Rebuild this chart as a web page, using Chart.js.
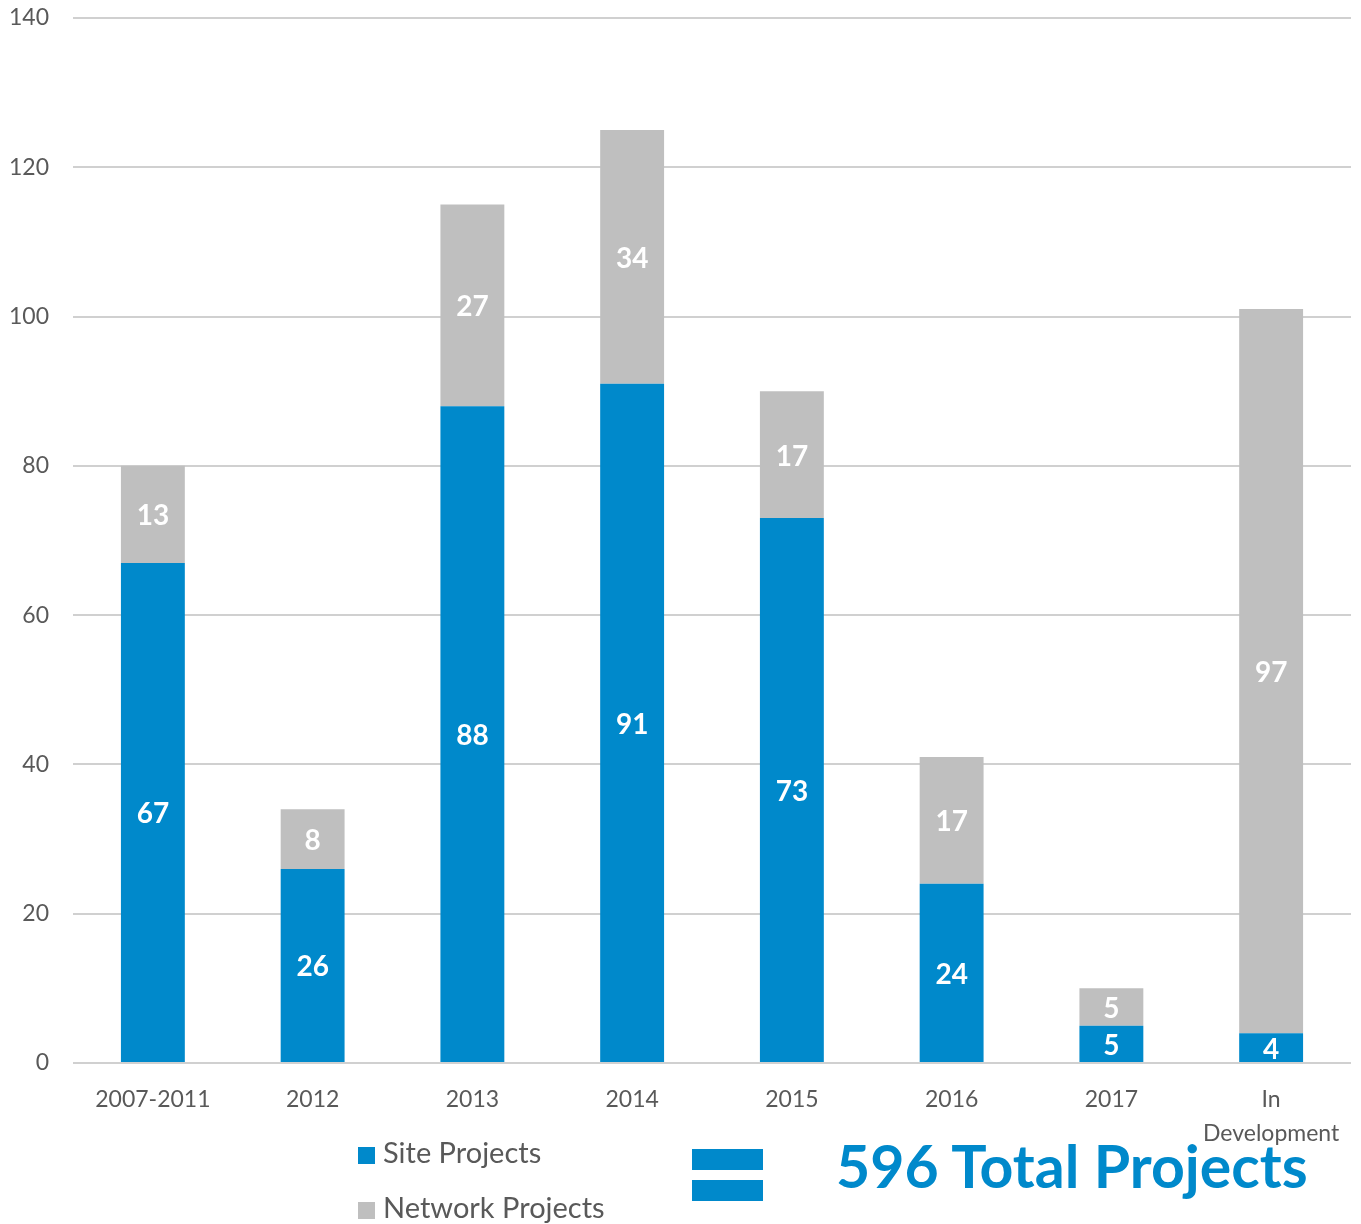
<!DOCTYPE html>
<html>
<head>
<meta charset="utf-8">
<script src="https://cdn.jsdelivr.net/npm/chart.js@4.4.0/dist/chart.umd.min.js"></script>
<style>
  body { margin: 0; background: #fff; }
  #wrap { position: relative; width: 1361px; height: 1224px; }
  #projects { position: absolute; left: 0; top: 0; }
  .legend { position: absolute; left: 358px; font-family: Lato, sans-serif; font-size: 29px; color: #595959; }
  .legend span { display: inline-block; width: 17px; height: 17px; margin-right: 8px; vertical-align: -1px; }
  .eq { position: absolute; left: 692px; width: 71px; height: 21px; background: #0089cb; }
  #total { position: absolute; left: 836px; top: 1130px; font-family: Lato, sans-serif; font-weight: bold;
           font-size: 59px; color: #0089cb; white-space: nowrap; }
</style>
</head>
<body>
<div id="wrap">
  <canvas id="projects" width="1361" height="1224"></canvas>
  <div class="legend" style="top:1134px"><span style="background:#0089cb"></span>Site Projects</div>
  <div class="legend" style="top:1189px"><span style="background:#bfbfbf"></span>Network Projects</div>
  <div class="eq" style="top:1149px"></div>
  <div class="eq" style="top:1180px"></div>
  <div id="total">596 Total Projects</div>
</div>
<script>
let years = ['2007-2011', '2012', '2013', '2014', '2015', '2016', '2017', ['In', 'Development']]
let site = [67, 26, 88, 91, 73, 24, 5, 4]
let network = [13, 8, 27, 34, 17, 17, 5, 97]
let yTicks = [0, 20, 40, 60, 80, 100, 120, 140]

let ctx = document.getElementById('projects')

// white numbers in the middle of each segment
let barLabels = {
  id: 'barLabels',
  afterDatasetsDraw(chart) {
    let c = chart.ctx
    c.save()
    c.fillStyle = '#ffffff'
    c.font = 'bold 28px Lato, sans-serif'
    c.textAlign = 'center'
    c.textBaseline = 'middle'
    chart.data.datasets.forEach((ds, i) => {
      chart.getDatasetMeta(i).data.forEach((bar, j) => {
        let mid = (bar.y + bar.base) / 2
        c.fillText(ds.data[j], bar.x, mid + 2)
      })
    })
    c.restore()
  }
}

let chart = new Chart(ctx, {
  type: 'bar',
  data: {
    labels: years,
    datasets: [
      { label: 'Site Projects', data: site, backgroundColor: '#0089cb' },
      { label: 'Network Projects', data: network, backgroundColor: '#bfbfbf' }
    ]
  },
  options: {
    responsive: false,
    animation: false,
    layout: { padding: { top: 18, right: 10, bottom: 0, left: 0 } },
    plugins: { legend: { display: false }, tooltip: { enabled: false } },
    datasets: { bar: { barPercentage: 0.4, categoryPercentage: 1 } },
    scales: {
      x: {
        stacked: true,
        grid: { display: false },
        border: { display: false },
        ticks: {
          color: '#595959',
          font: { family: 'Lato', size: 23, lineHeight: 1.5 },
          padding: 11,
          maxRotation: 0,
          autoSkip: false
        },
        afterFit(scale) { scale.height = 161 }
      },
      y: {
        stacked: true,
        min: 0,
        max: 140,
        afterBuildTicks(scale) { scale.ticks = yTicks.map(v => ({ value: v })) },
        grid: { color: '#d0d0d0', lineWidth: 2, drawTicks: false },
        border: { display: false },
        ticks: {
          color: '#595959',
          font: { family: 'Lato', size: 23 },
          padding: 24
        },
        afterFit(scale) {
          scale.width = 73
          scale.paddingTop = 0
          scale.paddingBottom = 0
        }
      }
    }
  },
  plugins: [barLabels]
})
</script>
</body>
</html>
